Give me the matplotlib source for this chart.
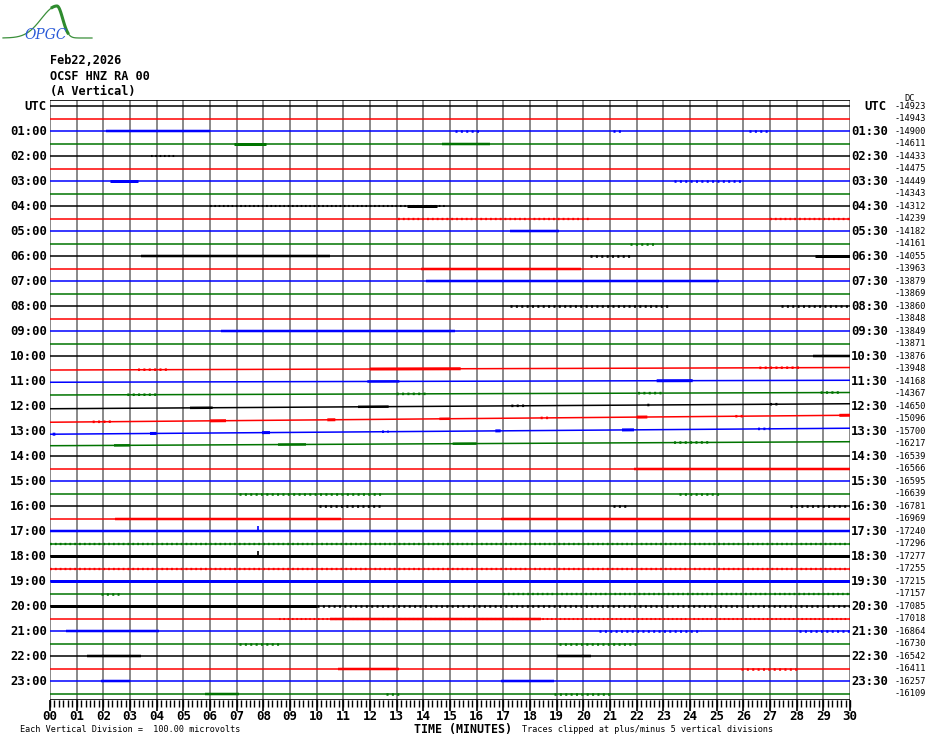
import numpy as np
import matplotlib
matplotlib.use("Agg")
import matplotlib.pyplot as plt

# helicorder: 48 traces of 30 minutes each, colours cycle black/red/blue/green
n_lines = 48
trace_colors = ['#000000', '#ff0000', '#0000ff', '#007400']

# mean (DC) value of every trace, as printed on the right
dc_values = [-14923, -14943, -14900, -14611, -14433, -14475, -14449, -14343,
             -14312, -14239, -14182, -14161, -14055, -13963, -13879, -13869,
             -13860, -13848, -13849, -13871, -13876, -13948, -14168, -14367,
             -14650, -15096, -15700, -16217, -16539, -16566, -16595, -16639,
             -16781, -16969, -17240, -17296, -17277, -17255, -17215, -17157,
             -17085, -17018, -16864, -16730, -16542, -16411, -16257, -16109]

# baseline drift over the 30 minutes of a trace (divisions, positive = up)
drift = {21: 0.2, 22: 0.16, 23: 0.2, 24: 0.4, 25: 0.56, 26: 0.48, 27: 0.32}

# stretches of visible signal: (trace, start minute, end minute, peak-to-peak in divisions)
bursts = [
    (2, 2.1, 6.0, 0.2), (2, 15.2, 16.1, 0.16), (2, 21.1, 21.4, 0.16), (2, 26.2, 27.0, 0.16),
    (3, 6.9, 8.1, 0.24), (3, 14.7, 16.5, 0.2),
    (4, 3.8, 4.7, 0.12),
    (6, 2.25, 3.3, 0.24), (6, 23.4, 25.9, 0.16),
    (8, 6.0, 14.8, 0.12), (8, 13.4, 14.5, 0.24),
    (9, 13.05, 20.25, 0.14), (9, 27.0, 30.0, 0.14),
    (10, 17.25, 19.1, 0.2),
    (11, 21.75, 22.7, 0.16),
    (12, 3.4, 10.5, 0.2), (12, 20.25, 21.75, 0.16), (12, 28.7, 30.0, 0.24),
    (13, 13.9, 19.9, 0.2),
    (14, 14.1, 25.1, 0.2),
    (16, 17.25, 23.25, 0.16), (16, 27.4, 30.0, 0.16),
    (18, 6.4, 15.2, 0.2),
    (20, 28.6, 30.0, 0.2),
    (21, 3.3, 4.5, 0.16), (21, 12.0, 15.4, 0.24), (21, 26.6, 28.2, 0.16),
    (22, 11.9, 13.1, 0.2), (22, 22.75, 24.1, 0.24),
    (23, 2.9, 4.1, 0.16), (23, 13.0, 14.2, 0.16), (23, 22.05, 23.0, 0.16), (23, 28.9, 29.7, 0.16),
    (24, 5.25, 6.1, 0.2), (24, 11.55, 12.7, 0.2), (24, 17.3, 17.8, 0.16), (24, 22.4, 22.6, 0.16),
    (24, 27.0, 27.4, 0.16),
    (25, 1.6, 2.3, 0.16), (25, 6.0, 6.6, 0.24), (25, 10.4, 10.7, 0.24), (25, 14.6, 15.0, 0.2),
    (25, 18.4, 18.8, 0.16), (25, 22.0, 22.4, 0.24), (25, 25.7, 26.1, 0.16), (25, 29.6, 30.0, 0.24),
    (26, 0.1, 0.2, 0.24), (26, 3.75, 4.0, 0.24), (26, 7.95, 8.25, 0.24), (26, 12.45, 12.7, 0.16),
    (26, 16.7, 16.9, 0.24), (26, 21.45, 21.9, 0.24), (26, 26.55, 27.0, 0.16),
    (27, 2.4, 3.0, 0.2), (27, 8.55, 9.6, 0.2), (27, 15.1, 16.0, 0.2), (27, 23.4, 24.7, 0.16),
    (29, 21.9, 30.0, 0.2),
    (31, 7.1, 12.4, 0.16), (31, 23.6, 25.1, 0.16),
    (32, 10.1, 12.4, 0.16), (32, 21.1, 21.6, 0.16), (32, 27.75, 30.0, 0.16),
    (33, 2.45, 10.9, 0.2), (33, 16.9, 30.0, 0.2),
    (34, 0.0, 30.0, 0.2),
    (35, 0.0, 30.0, 0.14),
    (36, 0.0, 30.0, 0.24),
    (37, 0.0, 30.0, 0.14),
    (38, 0.0, 30.0, 0.24),
    (39, 1.9, 2.6, 0.16), (39, 17.0, 30.0, 0.14),
    (40, 0.0, 10.0, 0.24), (40, 10.0, 30.0, 0.16),
    (41, 8.6, 30.0, 0.12), (41, 10.5, 18.4, 0.2),
    (42, 0.6, 4.1, 0.2), (42, 20.6, 24.4, 0.16), (42, 28.1, 30.0, 0.16),
    (43, 7.1, 8.6, 0.16), (43, 19.1, 22.1, 0.16),
    (44, 1.4, 3.4, 0.2), (44, 19.0, 20.3, 0.2),
    (45, 10.8, 13.1, 0.2), (45, 25.9, 28.1, 0.16),
    (46, 1.9, 3.0, 0.2), (46, 16.9, 18.9, 0.2),
    (47, 5.8, 7.1, 0.2), (47, 12.6, 13.1, 0.16), (47, 18.9, 21.0, 0.16),
]

# single spikes: (trace, minute, height in divisions)
spikes = [(34, 7.8, 0.45), (36, 7.8, 0.4)]

minute_labels = ['%02d' % m for m in range(31)]

px_per_div = 12.5
top, bottom = -0.52, n_lines - 0.48

fig = plt.figure(figsize=(9.3, 7.44), dpi=100)
ax = fig.add_axes([50 / 930, 44 / 744, 800 / 930, 600 / 744])
ax.set_xlim(0, 30)
ax.set_ylim(bottom, top)
ax.axis('off')

# minute grid
ax.vlines(range(31), top, bottom, color='#808080', lw=1.3, zorder=1)
ax.hlines([top, bottom], 0, 30, color='black', lw=1.2, zorder=3)

# traces
for k in range(n_lines):
    c = trace_colors[k % 4]
    d = drift.get(k, 0)
    ax.plot([0, 30], [k + d / 2, k - d / 2], color=c, lw=1.1, zorder=2,
            solid_capstyle='butt')

for k, t0, t1, amp in bursts:
    c = trace_colors[k % 4]
    d = drift.get(k, 0)
    y0 = k + d / 2 - d * t0 / 30
    y1 = k + d / 2 - d * t1 / 30
    lw = amp * px_per_div * 0.72
    if amp < 0.2:
        # sparse noise: broken line
        ax.plot([t0, t1], [y0, y1], color=c, lw=lw + 0.4, zorder=2,
                linestyle=(0, (0.8, 1.3)), dash_capstyle='butt')
    else:
        ax.plot([t0, t1], [y0, y1], color=c, lw=lw, zorder=2,
                solid_capstyle='butt')

for k, t, h in spikes:
    ax.vlines(t, k - h, k + 0.1, color=trace_colors[k % 4], lw=1.2, zorder=2)

# time axis ticks
tick_len = 1 / px_per_div
ax.vlines(np.arange(0, 30.01, 1 / 6), bottom, bottom + 7 * tick_len,
          color='black', lw=1, clip_on=False)
ax.vlines(range(31), bottom, bottom + 11 * tick_len, color='black', lw=1.2,
          clip_on=False)
for m, lab in enumerate(minute_labels):
    ax.text(m, bottom + 16.5 * tick_len, lab, ha='center', va='center',
            family='DejaVu Sans Mono', weight='bold', fontsize=9, clip_on=False)

# hour labels
for k in range(0, n_lines, 2):
    left = 'UTC' if k == 0 else '%02d:00' % (k // 2)
    right = 'UTC' if k == 0 else '%02d:30' % (k // 2)
    ax.text(-0.12, k, left, ha='right', va='center', family='DejaVu Sans Mono',
            weight='bold', fontsize=8.8, clip_on=False)
    ax.text(30.05 if k else 30.55, k, right, ha='left', va='center',
            family='DejaVu Sans Mono', weight='bold', fontsize=8.8, clip_on=False)

for k, v in enumerate(dc_values):
    ax.text(31.68, k, str(v), ha='left', va='center', family='DejaVu Sans Mono',
            fontsize=6.2, clip_on=False)
ax.text(32.05, -0.62, 'DC', ha='left', va='center', family='DejaVu Sans Mono',
        fontsize=6.2, clip_on=False)

# header
for i, line in enumerate(['Feb22,2026', 'OCSF HNZ RA 00', '(A Vertical)']):
    fig.text(50 / 930, 1 - (61 + 15.5 * i) / 744, line, ha='left', va='center',
             family='DejaVu Sans Mono', weight='bold', fontsize=8.6)

# footer
fig.text(20 / 930, 1 - 730 / 744, 'Each Vertical Division =  100.00 microvolts',
         ha='left', va='center', family='DejaVu Sans Mono', fontsize=6.1)
fig.text(414 / 930, 1 - 729.5 / 744, 'TIME (MINUTES)', ha='left', va='center',
         family='DejaVu Sans Mono', weight='bold', fontsize=8.4)
fig.text(522 / 930, 1 - 730 / 744,
         'Traces clipped at plus/minus 5 vertical divisions',
         ha='left', va='center', family='DejaVu Sans Mono', fontsize=6.1)

# OPGC logo
lg = fig.add_axes([0, 1 - 45 / 744, 100 / 930, 45 / 744])
lg.set_xlim(0, 100)
lg.set_ylim(45, 0)
lg.axis('off')
xs = np.linspace(3, 92, 200)
w = np.where(xs < 57, 22, 8)
ys = 38 - 32 * np.exp(-((xs - 57) / w) ** 2)
lg.plot(xs, ys, color='#3a8f3a', lw=0.9)
thick = (xs > 52) & (xs < 68)
lg.plot(xs[thick], ys[thick], color='#2e8b2e', lw=2.2)
lg.text(46, 35, 'OPGC', ha='center', va='center', color='#2a5ad8',
        style='italic', fontsize=10, family='DejaVu Serif')

fig.savefig('out.png', dpi=100, facecolor='white')
